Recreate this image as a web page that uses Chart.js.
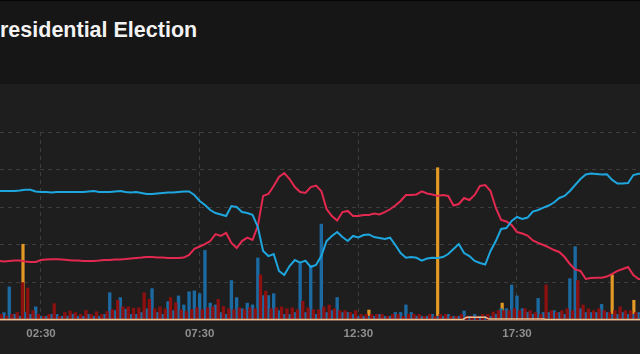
<!DOCTYPE html>
<html>
<head>
<meta charset="utf-8">
<script src="https://cdn.jsdelivr.net/npm/chart.js@4.4.1/dist/chart.umd.min.js"></script>
<style>
  html, body { margin: 0; padding: 0; background: #161616; overflow: hidden; }
  body { width: 640px; height: 354px; position: relative; border-top: 1px solid #050505; box-sizing: border-box; }
  #title {
    position: absolute; left: 0; top: 19px;
    font: bold 21.5px "Liberation Sans", Arial, sans-serif; line-height: 21px;
    color: #f2f2f2; white-space: nowrap;
  }
  #panel { position: absolute; left: 0; top: 83px; width: 640px; height: 271px; background: #1e1e1e; }
</style>
</head>
<body>
<div id="title">residential Election</div>
<div id="panel"><canvas id="electionChart"></canvas></div>
<script>
// time grid in minutes after midnight (one sample every 10 minutes)
const startMinute = 70;
const stepMinutes = 10;

// share of conversation, % (blue / red candidate)
const blueShare = [68.6, 68.6, 68.6, 68.6, 68.9, 69.3, 69.3, 68.4, 68.1, 68.1,
  67.8, 68.1, 68.1, 68.1, 68.1, 68.1, 68.1, 68.4, 68.6, 68.1,
  68.1, 68.1, 68.4, 68.6, 68.1, 67.8, 68.1, 67.6, 67.0, 67.0,
  67.3, 67.6, 67.8, 67.8, 68.1, 68.4, 68.4, 66.5, 63.3, 61.2,
  58.5, 56.9, 56.1, 55.3, 60.6, 60.1, 57.4, 56.9, 55.9, 49.5,
  36.7, 34.0, 35.1, 26.1, 23.9, 28.7, 31.9, 30.5, 31.6, 28.2,
  29.3, 34.0, 42.0, 44.7, 46.8, 44.1, 42.0, 44.7, 43.9, 45.2,
  45.5, 44.1, 43.6, 43.1, 43.8, 39.9, 35.6, 33.1, 33.5, 33.1,
  31.6, 32.7, 33.1, 33.0, 33.5, 35.1, 37.8, 40.4, 35.6, 34.0,
  31.4, 30.3, 29.5, 36.7, 42.0, 48.4, 48.9, 52.7, 54.8, 53.7,
  54.5, 57.7, 58.5, 59.8, 60.9, 62.5, 64.9, 66.0, 68.6, 71.8,
  75.0, 77.4, 77.9, 77.7, 77.4, 77.5, 74.5, 72.6, 72.6, 72.9,
  77.1, 77.8, 77.8];

const redShare = [31.4, 31.1, 31.4, 31.6, 31.6, 31.1, 30.9, 30.9, 31.9, 32.2,
  32.3, 32.3, 32.2, 31.9, 31.6, 31.6, 31.4, 31.4, 31.4, 31.6,
  31.9, 31.9, 32.2, 32.2, 32.4, 32.7, 33.0, 33.2, 33.5, 33.5,
  33.2, 33.2, 33.0, 33.0, 33.0, 33.2, 34.6, 37.8, 39.1, 40.4,
  42.0, 45.7, 44.7, 46.3, 41.0, 38.3, 42.0, 43.8, 42.6, 50.0,
  66.0, 67.0, 71.3, 76.1, 78.2, 75.0, 70.7, 68.1, 67.6, 70.7,
  71.5, 68.6, 59.0, 55.3, 52.9, 57.4, 58.0, 55.3, 55.3, 55.9,
  55.9, 56.6, 56.1, 57.4, 58.9, 60.9, 63.3, 66.5, 66.5, 66.8,
  68.4, 67.3, 66.8, 66.0, 66.5, 66.0, 60.9, 61.7, 64.9, 63.8,
  66.5, 71.3, 71.8, 68.6, 59.6, 53.2, 52.4, 50.5, 46.8, 46.0,
  44.9, 42.3, 41.0, 39.9, 38.6, 37.2, 36.2, 33.5, 29.8, 26.9,
  26.1, 21.8, 22.3, 22.5, 22.5, 23.1, 24.5, 26.1, 27.1, 28.2,
  23.9, 21.8, 21.6];

// mention volume bars
const blueVolume = [2, 3.9, 17.6, 3, 2, 4, 3, 7, 2, 2,
  3, 3, 2, 2, 3, 2, 2, 3, 2, 2,
  3, 14.5, 5, 11.9, 5.7, 3, 3, 4, 6, 16.7,
  4, 3, 9.8, 5, 12.8, 8, 15, 15.5, 14, 37,
  9, 8, 4, 3, 21, 11.9, 6, 9, 8, 33,
  13, 13, 14, 5, 3, 3, 4, 30, 4, 29,
  3, 51, 4, 5, 12, 4, 4, 3, 2, 2,
  2, 2, 3, 2, 2, 4, 4, 8, 4, 2,
  2, 2, 3, 2, 2, 3, 2, 2, 4.8, 2,
  3, 2, 2, 2, 3, 6, 6, 18.6, 12.8, 6,
  4, 3, 11.5, 4, 4, 5, 4, 3, 22, 39,
  6, 4, 4, 4, 8.3, 4, 3, 3, 4, 3,
  3, 4, 3];

const redVolume = [3, 2, 3, 4, 19.9, 17, 5, 3, 2, 3,
  8.7, 2, 4, 4.8, 4, 3, 5.1, 3, 4.4, 3,
  4.5, 5.5, 10.5, 7, 7, 6.3, 6.5, 14.5, 11, 6,
  7, 6, 11.9, 9.2, 5.5, 4.5, 5.5, 6.5, 5.5, 6.5,
  7, 11, 7.2, 6, 5.5, 6.5, 5.5, 6.5, 6, 24,
  15.4, 6, 6.5, 7, 6, 6.5, 5.5, 10, 6.5, 5.5,
  5.4, 7, 8, 6, 5, 5, 4, 5, 3, 3,
  3, 3, 3, 2, 3, 3, 2, 3, 3, 3,
  2, 3, 2, 3, 3, 2, 2, 3, 2, 2,
  2, 3, 3, 4.3, 5, 5, 5, 6, 5, 6,
  5, 4, 3, 18.6, 5, 4, 5, 6, 5, 21,
  8, 6, 5, 6, 5, 4, 5, 7, 5, 5,
  4, 3, 3];

const orangeTimes = [116, 148, 341, 434, 770, 900, 1022, 1099, 1230, 1271];
const orangeVolume = [40.3, 2, 1.5, 1.5, 5.3, 81, 9, 2.5, 24, 10.5];

const orangeLineTimes = [72, 948, 955, 990, 997, 1100, 1106, 1283];
const orangeLineValues = [0.3, 0.3, 1.5, 1.5, 0.5, 0.5, 0.3, 0.3];

const tickMinutes = [150, 450, 750, 1050];
const tickLabels = ['02:30', '07:30', '12:30', '17:30'];

const times = blueShare.map((_, i) => startMinute + i * stepMinutes);
const pts = (xs, ys, shift = 0) => xs.map((x, i) => ({ x: x + shift, y: ys[i] }));

const ctx = document.getElementById('electionChart').getContext('2d');
new Chart(ctx, {
  data: {
    datasets: [
      { type: 'line', data: pts(times, blueShare), borderColor: '#1ea6df', borderWidth: 2,
        pointRadius: 0, tension: 0, order: 0, yAxisID: 'y' },
      { type: 'line', data: pts(times, redShare), borderColor: '#e3294f', borderWidth: 2,
        pointRadius: 0, tension: 0, order: 0, yAxisID: 'y' },
      { type: 'line', data: pts(orangeLineTimes, orangeLineValues), borderColor: '#f0c08c', borderWidth: 1.5,
        pointRadius: 0, tension: 0, order: 1, yAxisID: 'yVol' },
      { type: 'bar', data: pts(times, redVolume, 5), backgroundColor: '#8b1010', barThickness: 2.7,
        grouped: false, order: 2, yAxisID: 'yVol' },
      { type: 'bar', data: pts(times, blueVolume), backgroundColor: '#1b6aa2', barThickness: 2.7,
        grouped: false, order: 3, yAxisID: 'yVol' },
      { type: 'bar', data: pts(orangeTimes, orangeVolume), backgroundColor: '#e39a24', barThickness: 2.5,
        grouped: false, order: 4, yAxisID: 'yVol' }
    ]
  },
  options: {
    responsive: true,
    maintainAspectRatio: false,
    animation: false,
    layout: { padding: { top: 48, left: 0, right: 0, bottom: 0 } },
    plugins: { legend: { display: false }, tooltip: { enabled: false } },
    scales: {
      x: {
        type: 'linear',
        offset: false,
        min: 72.5,
        max: 1282.6,
        afterBuildTicks: (scale) => { scale.ticks = tickMinutes.map(v => ({ value: v })); },
        afterFit: (scale) => { scale.height = 35; },
        ticks: {
          padding: 6.5,
          color: '#8f8f8f',
          font: { family: 'Liberation Sans, Arial, sans-serif', size: 11.5, weight: 'bold' },
          callback: (v) => tickLabels[tickMinutes.indexOf(v)],
          maxRotation: 0
        },
        grid: { color: '#3d3d3d', drawTicks: false, offset: false },
        border: { display: true, color: '#d99c86', width: 1.5, dash: [4, 4] }
      },
      y: {
        min: 0,
        max: 100,
        ticks: { display: false, stepSize: 20 },
        grid: {
          drawTicks: false,
          color: (c) => (c.tick && c.tick.value === 0 ? 'rgba(0,0,0,0)' : '#3d3d3d')
        },
        border: { display: false, dash: [4, 4] }
      },
      yVol: { display: false, min: 0, max: 100 }
    }
  }
});
</script>
</body>
</html>
